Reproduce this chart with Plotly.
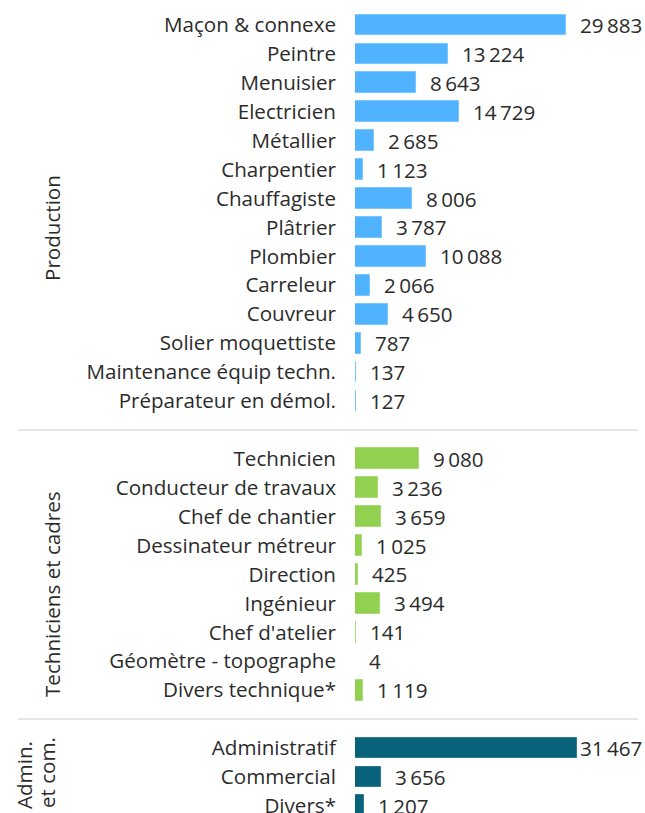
import plotly.graph_objects as go

# Effectifs par métier, regroupés par famille
production_labels = [
    "Maçon & connexe", "Peintre", "Menuisier", "Electricien", "Métallier",
    "Charpentier", "Chauffagiste", "Plâtrier", "Plombier", "Carreleur",
    "Couvreur", "Solier moquettiste", "Maintenance équip techn.",
    "Préparateur en démol.",
]
production_values = [29883, 13224, 8643, 14729, 2685, 1123, 8006, 3787,
                     10088, 2066, 4650, 787, 137, 127]

tech_labels = [
    "Technicien", "Conducteur de travaux", "Chef de chantier",
    "Dessinateur métreur", "Direction", "Ingénieur", "Chef d'atelier",
    "Géomètre - topographe", "Divers technique*",
]
tech_values = [9080, 3236, 3659, 1025, 425, 3494, 141, 4, 1119]

admin_labels = ["Administratif", "Commercial", "Divers*"]
admin_values = [31467, 3656, 1207]

FONT = "Open Sans, Noto Sans, sans-serif"
FONT_SIZE = 20.6
TEXT = "#2B2B2B"
BLUE = "#4FB3FF"
GREEN = "#92D050"
TEAL = "#08627A"
RULE = "#DCDCDC"

W, H = 645, 813
LEFT = 355          # pixel where bars start
ROW_PX = 28.92      # pixel height of a row
FIRST_ROW_PX = 25   # pixel centre of the first row
X_MAX = 41070

groups = [
    ("Production", production_labels, production_values, BLUE, "#7CC6FF"),
    ("Techniciens et cadres", tech_labels, tech_values, GREEN, "#A9DC78"),
    ("Admin. et com.", admin_labels, admin_values, TEAL, "#2F7D91"),
]


def fmt(v):
    return f"{v:,}".replace(",", "\u2009")


def row_of(px):
    return (px - FIRST_ROW_PX) / ROW_PX


def paper_x(px):
    return (px - LEFT) / (W - LEFT)


fig = go.Figure()
tickvals, ticktext = [], []
annotations = []
row = 0
group_rows = []
px_per_unit = (W - LEFT) / X_MAX
for name, labels, values, color, edge in groups:
    rows = list(range(row, row + len(labels)))
    group_rows.append(rows)
    fig.add_trace(go.Bar(
        x=values, y=rows, orientation="h", width=0.72,
        marker=dict(color=color, line=dict(color=edge, width=1)),
        hoverinfo="skip", showlegend=False,
    ))
    tickvals += rows
    ticktext += labels
    for r, v in zip(rows, values):
        txt = fmt(v)
        est_w = len(txt) * 11
        shift = 12
        if LEFT + v * px_per_unit + shift + est_w > W:
            shift = 1
        annotations.append(dict(
            x=v, y=r, xref="x", yref="y", text=txt, showarrow=False,
            xanchor="left", yanchor="middle", xshift=shift,
            font=dict(family=FONT, size=FONT_SIZE, color=TEXT),
        ))
    row += len(labels) + 1

# group titles, rotated (pixel positions)
group_titles = [
    ("Production", 52, 228),
    ("Techniciens et cadres", 52, 594),
    ("Admin.", 24, 775),
    ("et com.", 47, 773),
]
for txt, px_x, px_y in group_titles:
    annotations.append(dict(
        x=paper_x(px_x), y=row_of(px_y), xref="paper", yref="y",
        text=txt, showarrow=False, textangle=-90,
        xanchor="center", yanchor="middle",
        font=dict(family=FONT, size=FONT_SIZE, color=TEXT),
    ))

# separators between groups
shapes = []
for rows in group_rows[:-1]:
    y_sep = rows[-1] + 1
    shapes.append(dict(
        type="line", xref="paper", yref="y",
        x0=paper_x(18), x1=paper_x(638),
        y0=y_sep, y1=y_sep, line=dict(color=RULE, width=1.5),
    ))

fig.update_layout(
    width=W, height=H,
    margin=dict(l=LEFT, r=0, t=0, b=0),
    paper_bgcolor="white", plot_bgcolor="white",
    font=dict(family=FONT, size=FONT_SIZE, color=TEXT),
    bargap=0,
    xaxis=dict(range=[0, X_MAX], visible=False, fixedrange=True,
               automargin=False),
    yaxis=dict(
        range=[row_of(H), row_of(0)], fixedrange=True, automargin=False,
        tickvals=tickvals, ticktext=ticktext,
        showgrid=False, zeroline=False, showline=False, ticks="",
        ticklabelstandoff=18, ticklabeloverflow="allow",
        tickfont=dict(family=FONT, size=FONT_SIZE, color=TEXT),
    ),
    annotations=annotations,
    shapes=shapes,
)

# figure at the window corner, and the last row clipped at the bottom edge
fig.write_html(
    "out.html",
    config={"displayModeBar": False},
    post_script=(
        "document.body.style.margin='0';"
        "document.documentElement.style.overflow='hidden';"
        "document.getElementById('{plot_id}').style.overflow='hidden';"
    ),
)
